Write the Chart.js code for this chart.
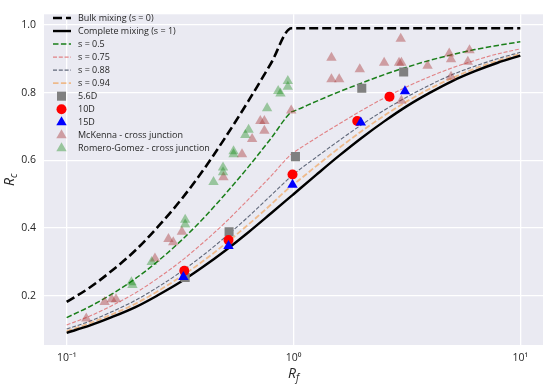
<!DOCTYPE html>
<html>
<head>
<meta charset="utf-8">
<script src="https://cdn.jsdelivr.net/npm/chart.js@4"></script>
<style>
  html, body { margin: 0; padding: 0; background: #fff; }
  #wrap { width: 550px; height: 388px; }
</style>
</head>
<body>
<div id="wrap"><canvas id="chart" width="550" height="388"></canvas></div>
<script>
// Rf grid shared by the model curves
const rfGrid = [0.1, 0.126, 0.158, 0.2, 0.251, 0.316, 0.398, 0.501, 0.631, 0.794, 0.98,
  1.0, 1.259, 1.585, 1.995, 2.512, 3.162, 3.981, 5.012, 6.31, 7.943, 10];

const bulkRc = [0.182, 0.224, 0.274, 0.333, 0.402, 0.480, 0.569, 0.668, 0.774, 0.885, 0.99,
  0.99, 0.99, 0.99, 0.99, 0.99, 0.99, 0.99, 0.99, 0.99, 0.99, 0.99];
const completeRc = [0.091, 0.112, 0.137, 0.166, 0.201, 0.240, 0.285, 0.334, 0.387, 0.443, 0.495,
  0.500, 0.557, 0.613, 0.666, 0.715, 0.760, 0.799, 0.834, 0.863, 0.888, 0.909];
const s05Rc = [0.136, 0.168, 0.205, 0.250, 0.301, 0.360, 0.427, 0.501, 0.580, 0.664, 0.743,
  0.745, 0.774, 0.802, 0.828, 0.853, 0.875, 0.895, 0.912, 0.927, 0.939, 0.950];
const s075Rc = [0.114, 0.140, 0.171, 0.208, 0.251, 0.300, 0.356, 0.417, 0.484, 0.553, 0.619,
  0.623, 0.666, 0.707, 0.747, 0.784, 0.817, 0.847, 0.873, 0.895, 0.914, 0.929];
const s088Rc = [0.102, 0.125, 0.153, 0.186, 0.225, 0.269, 0.319, 0.374, 0.433, 0.496, 0.554,
  0.559, 0.609, 0.658, 0.705, 0.748, 0.787, 0.822, 0.853, 0.878, 0.900, 0.919];
const s094Rc = [0.096, 0.119, 0.145, 0.176, 0.213, 0.255, 0.302, 0.354, 0.410, 0.469, 0.525,
  0.529, 0.583, 0.636, 0.686, 0.732, 0.774, 0.811, 0.843, 0.871, 0.894, 0.914];

// Measurements
const d56Rf = [0.333, 0.52, 1.02, 2.0, 3.06];
const d56Rc = [0.254, 0.389, 0.611, 0.813, 0.861];
const d10Rf = [0.33, 0.517, 0.99, 1.91, 2.65];
const d10Rc = [0.274, 0.365, 0.558, 0.716, 0.788];
const d15Rf = [0.327, 0.517, 0.99, 1.98, 3.1];
const d15Rc = [0.256, 0.347, 0.528, 0.712, 0.804];

const mcKennaRf = [0.122, 0.147, 0.158, 0.165, 0.245, 0.281, 0.295, 0.322, 0.491, 0.593, 0.657,
  0.714, 0.744, 0.744, 0.977, 1.47, 1.47, 1.59, 1.96, 2.51, 2.92, 2.99, 2.97, 2.99, 3.9, 4.86,
  4.95, 4.95, 5.87, 5.97];
const mcKennaRc = [0.133, 0.182, 0.19, 0.19, 0.31, 0.368, 0.358, 0.389, 0.55, 0.618, 0.663,
  0.716, 0.716, 0.687, 0.747, 0.903, 0.839, 0.839, 0.869, 0.888, 0.888, 0.888, 0.959, 0.776, 0.879, 0.915,
  0.898, 0.847, 0.891, 0.925];
const romeroRf = [0.193, 0.195, 0.237, 0.333, 0.333, 0.444, 0.489, 0.489, 0.544, 0.544, 0.613,
  0.634, 0.765, 0.856, 0.876, 0.944, 0.944];
const romeroRc = [0.24, 0.232, 0.30, 0.425, 0.411, 0.536, 0.579, 0.565, 0.618, 0.627, 0.675,
  0.69, 0.754, 0.805, 0.797, 0.834, 0.817];

const xTickVals = [0.1, 1, 10];
const xTickText = ['10\u207B\u00B9', '10\u2070', '10\u00B9'];
const yTickVals = [0.2, 0.4, 0.6, 0.8, 1.0];

const BG = '#EAEAF2';
const TEXT = '#262626';
const FONT = "'Open Sans', 'Noto Sans', sans-serif";

function pts(xs, ys) {
  return xs.map((x, i) => ({ x, y: ys[i] }));
}

function curve(label, ys, color, width, dash) {
  return {
    label, data: pts(rfGrid, ys), showLine: true, borderColor: color, borderWidth: width,
    borderDash: dash, pointRadius: 0, fill: false, cubicInterpolationMode: 'monotone', order: 20
  };
}

function marks(label, xs, ys, color, style, radius, order) {
  return {
    label, data: pts(xs, ys), showLine: false, pointStyle: style, pointRadius: radius,
    pointBackgroundColor: color, pointBorderWidth: 0, backgroundColor: color, order
  };
}

const datasets = [
  curve('Bulk mixing (s = 0)', bulkRc, '#000000', 2.6, [9, 4]),
  curve('Complete mixing (s = 1)', completeRc, '#000000', 2.4, []),
  curve('s = 0.5', s05Rc, '#1a7f1a', 1.5, [5.5, 2.4]),
  curve('s = 0.75', s075Rc, 'rgba(220,60,60,0.6)', 1.1, [4, 1.8]),
  curve('s = 0.88', s088Rc, 'rgba(70,80,100,0.85)', 1.1, [4, 1.8]),
  curve('s = 0.94', s094Rc, 'rgba(240,165,95,0.7)', 1.8, [5.5, 2.4]),
  marks('5.6D', d56Rf, d56Rc, '#808080', 'rect', 6.4, 5),
  marks('10D', d10Rf, d10Rc, '#ff0000', 'circle', 5, 4),
  marks('15D', d15Rf, d15Rc, '#0000ff', 'triangle', 6, 3),
  marks('McKenna - cross junction', mcKennaRf, mcKennaRc, 'rgba(165,42,42,0.4)', 'triangle', 6, 2),
  marks('Romero-Gomez - cross junction', romeroRf, romeroRc, 'rgba(0,128,0,0.35)', 'triangle', 6, 1)
];

const plotBg = {
  id: 'plotBg',
  beforeDraw(chart) {
    const { ctx, chartArea: a } = chart;
    ctx.save();
    ctx.fillStyle = BG;
    ctx.fillRect(a.left, a.top, a.right - a.left, a.bottom - a.top);
    ctx.restore();
  }
};

function drawMarker(ctx, style, x, y, r) {
  ctx.beginPath();
  if (style === 'rect') {
    const h = r * Math.SQRT1_2;
    ctx.rect(x - h, y - h, 2 * h, 2 * h);
  } else if (style === 'circle') {
    ctx.arc(x, y, r, 0, Math.PI * 2);
  } else {
    ctx.moveTo(x, y - r);
    ctx.lineTo(x - r * 0.866, y + r / 2);
    ctx.lineTo(x + r * 0.866, y + r / 2);
    ctx.closePath();
  }
  ctx.fill();
}

const innerLegend = {
  id: 'innerLegend',
  afterDraw(chart) {
    const { ctx } = chart;
    ctx.save();
    ctx.font = '9px ' + FONT;
    ctx.textBaseline = 'middle';
    chart.data.datasets.forEach((ds, i) => {
      const y = 18 + i * 13.03;
      if (ds.showLine) {
        ctx.strokeStyle = ds.borderColor;
        ctx.lineWidth = ds.borderWidth;
        ctx.setLineDash(ds.borderDash);
        ctx.beginPath();
        ctx.moveTo(53, y);
        ctx.lineTo(71, y);
        ctx.stroke();
        ctx.setLineDash([]);
      } else {
        ctx.fillStyle = ds.pointBackgroundColor;
        drawMarker(ctx, ds.pointStyle, 61.5, y, ds.pointRadius);
      }
      ctx.fillStyle = TEXT;
      ctx.fillText(ds.label, 78, y);
    });
    ctx.restore();
  }
};

const axisTitles = {
  id: 'axisTitles',
  afterDraw(chart) {
    const { ctx, chartArea: a } = chart;
    ctx.save();
    ctx.fillStyle = TEXT;
    ctx.textBaseline = 'alphabetic';
    // x title R_f
    ctx.font = 'italic 14px ' + FONT;
    const cx = (a.left + a.right) / 2;
    const wR = ctx.measureText('R').width;
    ctx.font = 'italic 10px ' + FONT;
    const wf = ctx.measureText('f').width;
    let x0 = cx - (wR + wf) / 2;
    ctx.font = 'italic 14px ' + FONT;
    ctx.fillText('R', x0, 378);
    ctx.font = 'italic 10px ' + FONT;
    ctx.fillText('f', x0 + wR, 381);
    // y title R_c
    ctx.translate(14, (a.top + a.bottom) / 2);
    ctx.rotate(-Math.PI / 2);
    ctx.font = 'italic 10px ' + FONT;
    const wc = ctx.measureText('c').width;
    x0 = -(wR + wc) / 2;
    ctx.font = 'italic 14px ' + FONT;
    ctx.fillText('R', x0, 0);
    ctx.font = 'italic 10px ' + FONT;
    ctx.fillText('c', x0 + wR, 3);
    ctx.restore();
  }
};

new Chart(document.getElementById('chart'), {
  type: 'scatter',
  data: { datasets },
  options: {
    responsive: false,
    animation: false,
    events: [],
    layout: { padding: { top: 7, right: 7, left: 0, bottom: 0 } },
    plugins: { legend: { display: false }, tooltip: { enabled: false } },
    scales: {
      x: {
        type: 'logarithmic',
        min: Math.pow(10, -1.1),
        max: Math.pow(10, 1.1),
        afterBuildTicks: axis => { axis.ticks = xTickVals.map(v => ({ value: v })); },
        afterFit: axis => { axis.height = 43; },
        grid: { color: '#ffffff', lineWidth: 1.3, drawTicks: false },
        border: { display: false },
        ticks: {
          padding: 7, color: TEXT, font: { family: FONT, size: 10.5 },
          maxRotation: 0, autoSkip: false,
          callback: v => xTickText[xTickVals.indexOf(v)] || ''
        }
      },
      y: {
        min: 0.055,
        max: 1.031,
        afterBuildTicks: axis => { axis.ticks = yTickVals.map(v => ({ value: v })); },
        afterFit: axis => { axis.width = 44; },
        grid: { color: '#ffffff', lineWidth: 1.3, drawTicks: false },
        border: { display: false },
        ticks: {
          padding: 8, color: TEXT, font: { family: FONT, size: 10.5 },
          callback: v => v.toFixed(1)
        }
      }
    }
  },
  plugins: [plotBg, innerLegend, axisTitles]
});
</script>
</body>
</html>
